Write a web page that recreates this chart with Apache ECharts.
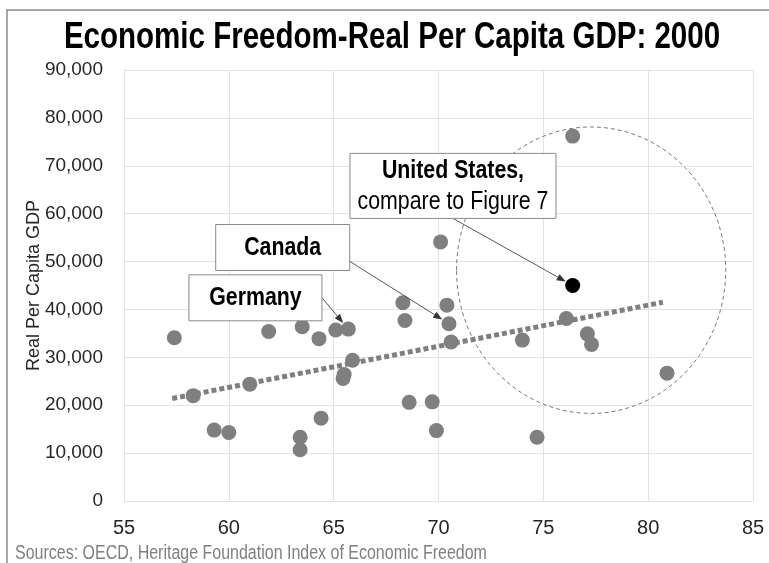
<!DOCTYPE html>
<html><head><meta charset="utf-8">
<script src="https://cdn.jsdelivr.net/npm/echarts@6/dist/echarts.min.js"></script>
<style>html,body{margin:0;padding:0;background:#fff}#c{width:769px;height:563px}</style>
</head><body><div id="c"></div>
<script>
// ---- data ----
const freedomScore = [57.4, 58.3, 59.3, 60.0, 61.0, 61.9, 63.5, 63.4, 63.4, 64.3, 64.4, 65.1, 65.7, 65.9, 65.45, 65.5, 68.3, 68.4, 68.6, 69.7, 69.9, 70.1, 70.4, 70.5, 70.6, 74.0, 74.7, 76.1, 76.4, 77.1, 77.3, 80.9];
const realGdpPerCapita = [34100, 22000, 14800, 14300, 24400, 35400, 36400, 13300, 10700, 33900, 17300, 35700, 35900, 29400, 25600, 26400, 41400, 37700, 20600, 20700, 14700, 54100, 40900, 37000, 33200, 33600, 13300, 38100, 76200, 34900, 32700, 26700];
const unitedStates = [76.4, 45000];
const trendFreedom = [57.3, 80.7];
const trendGdp = [21400, 41500];
const calloutNames = ['United States', 'Canada', 'Germany'];
const calloutTargets = [[76.4, 45000], [70.5, 37000], [65.7, 35900]];
// highlight ellipse: centre (x, y) and radii (x, y) in data units
const highlightEllipse = [77.28, 48200, 6.42, 29900];

const titleText = 'Economic Freedom-Real Per Capita GDP: 2000';
const yAxisTitle = 'Real Per Capita GDP';
const sourceText = 'Sources: OECD, Heritage Foundation Index of Economic Freedom';

// ---- layout (not data) ----
const FONT = "'Liberation Sans Narrow', 'Arial Narrow', 'Liberation Sans', sans-serif";
const NARROW = 0.82; // horizontal squeeze to imitate a narrow face
const calloutLayout = [
  { center: [70.69, 65800], w: 206, h: 65, from: [0.5, 1], gap: 8,
    text: '{b|United States,}\n{n|compare to Figure 7}' },
  { center: [62.57, 52930], w: 134, h: 46, from: [1, 0.8], gap: 8, text: '{b|Canada}' },
  { center: [61.27, 42430], w: 133, h: 46, from: [1, 0.5], gap: 8, text: '{b|Germany}' }
];

const points = freedomScore.map((x, i) => [x, realGdpPerCapita[i]]);
const trend = trendFreedom.map((x, i) => [x, trendGdp[i]]);

function renderCallout(params, api) {
  const L = calloutLayout[params.dataIndex];
  const t = api.coord([api.value(0), api.value(1)]);
  const c = api.coord(L.center);
  const x0 = c[0] - L.w / 2, y0 = c[1] - L.h / 2;
  const s = [x0 + L.w * L.from[0], y0 + L.h * L.from[1]];
  const dx = t[0] - s[0], dy = t[1] - s[1];
  const len = Math.hypot(dx, dy);
  const ux = dx / len, uy = dy / len;
  const tip = [t[0] - ux * L.gap, t[1] - uy * L.gap];
  const ah = 9, aw = 3.5;
  const base = [tip[0] - ux * ah, tip[1] - uy * ah];
  const head = [tip, [base[0] - uy * aw, base[1] + ux * aw], [base[0] + uy * aw, base[1] - ux * aw]];
  return { type: 'group', children: [
    { type: 'line', shape: { x1: s[0], y1: s[1], x2: base[0], y2: base[1] }, style: { stroke: '#555', lineWidth: 1 } },
    { type: 'polygon', shape: { points: head }, style: { fill: '#333' } },
    { type: 'rect', shape: { x: x0, y: y0, width: L.w, height: L.h }, style: { fill: '#fff', stroke: '#8a8a8a', lineWidth: 1 } },
    { type: 'text', x: c[0], y: c[1], scaleX: NARROW, style: {
        text: L.text, align: 'center', verticalAlign: 'middle',
        rich: {
          b: { fontFamily: FONT, fontWeight: 'bold', fontSize: 26, lineHeight: 31, fill: '#000', color: '#000' },
          n: { fontFamily: FONT, fontSize: 26, lineHeight: 31, fill: '#000', color: '#000' }
        } } }
  ] };
}

const chart = echarts.init(document.getElementById('c'), null, { renderer: 'canvas' });
chart.setOption({
  animation: false,
  backgroundColor: '#fff',
  grid: { left: 124, right: 16, top: 70, bottom: 62 },
  xAxis: { type: 'value', min: 55, max: 85, interval: 5,
    axisLine: { show: false }, axisTick: { show: false },
    splitLine: { lineStyle: { color: '#e3e3e3', width: 1 } },
    axisLabel: { fontFamily: FONT, fontSize: 20, color: '#262626', margin: 17 } },
  yAxis: { type: 'value', min: 0, max: 90000, interval: 10000,
    name: yAxisTitle, nameLocation: 'middle', nameGap: 81, nameRotate: 90, nameMoveOverlap: false,
    nameTextStyle: { fontFamily: FONT, fontSize: 18, color: '#262626' },
    axisLine: { show: false }, axisTick: { show: false },
    splitLine: { lineStyle: { color: '#e3e3e3', width: 1 } },
    axisLabel: { fontFamily: FONT, fontSize: 19, color: '#262626', margin: 21,
      formatter: v => v.toLocaleString('en-US') } },
  graphic: [
    { type: 'polyline', shape: { points: [[7, 563], [7, 10], [769, 10]] }, style: { stroke: '#8c8c8c', lineWidth: 1.5, fill: null } },
    { type: 'text', x: 392, y: 38, scaleX: NARROW, z: 10,
      style: { text: titleText, align: 'center', verticalAlign: 'middle', fontFamily: FONT, fontWeight: 'bold', fontSize: 36, fill: '#000' } },
    { type: 'text', x: 15, y: 554, scaleX: NARROW, z: 10,
      style: { text: sourceText, align: 'left', verticalAlign: 'middle', fontFamily: FONT, fontSize: 19.5, fill: '#7f7f7f' } }
  ],
  series: [
    { type: 'custom', name: 'highlight', data: [highlightEllipse], z: 1, silent: true,
      renderItem: (params, api) => {
        const c = api.coord([api.value(0), api.value(1)]);
        const r = api.size([api.value(2), api.value(3)]);
        return { type: 'ellipse', shape: { cx: c[0], cy: c[1], rx: r[0], ry: r[1] },
          style: { fill: null, stroke: '#7a7a7a', lineWidth: 1, lineDash: [4, 3] } };
      } },
    { type: 'line', name: 'trend', data: trend, showSymbol: false, symbol: 'none', z: 2,
      lineStyle: { color: '#7f7f7f', width: 5, type: [5, 3] } },
    { type: 'scatter', name: 'countries', data: points, symbolSize: 15, z: 3,
      itemStyle: { color: '#7f7f7f', opacity: 1 } },
    { type: 'scatter', name: 'United States', data: [unitedStates], symbolSize: 15, z: 4,
      itemStyle: { color: '#000', opacity: 1 } },
    { type: 'custom', name: 'callouts', data: calloutTargets, z: 5, renderItem: renderCallout }
  ]
});
</script></body></html>
